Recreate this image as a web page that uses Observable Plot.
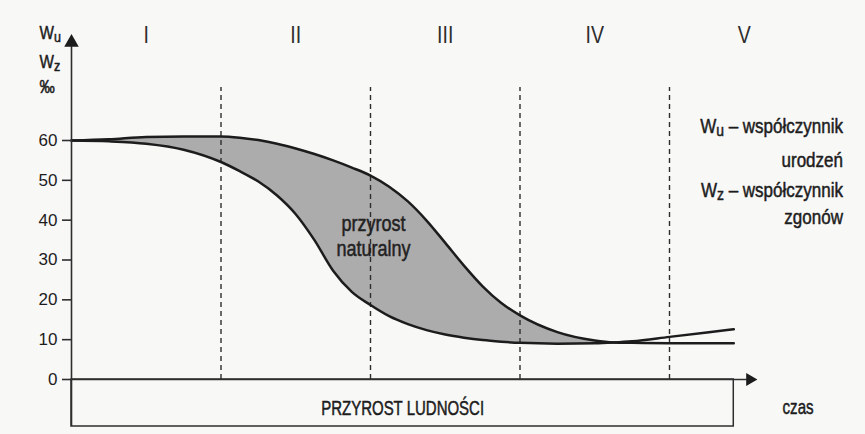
<!DOCTYPE html>
<html>
<head>
<meta charset="utf-8">
<script src="https://cdn.jsdelivr.net/npm/d3@7"></script>
<script src="https://cdn.jsdelivr.net/npm/@observablehq/plot@0.6"></script>
<style>
  html, body { margin: 0; padding: 0; background: #f8f8f7; }
  #chart svg { display: block; }
</style>
</head>
<body>
<div id="chart"></div>
<script>
// Stage labels (demographic transition periods)
const periods = ["I", "II", "III", "IV", "V"];
const periodCenters = [0.5, 1.5, 2.5, 3.5, 4.5];
const periodBoundaries = [1, 2, 3, 4];
const yTicks = [0, 10, 20, 30, 40, 50, 60];

// time (in stage units) and rates in ‰
const time   = [0, 0.25, 0.5, 0.75, 1.0, 1.125, 1.25, 1.375, 1.5, 1.625, 1.75, 1.875, 2.0, 2.125, 2.25, 2.375, 2.5, 2.625, 2.75, 2.875, 3.0, 3.25, 3.5, 3.625, 3.75, 4.0, 4.25, 4.43];
const births = [60, 60.3, 60.9, 61, 61, 60.7, 60.1, 59.2, 58.0, 56.6, 55.0, 53.2, 51.2, 48.4, 44.7, 39.9, 34.3, 28.6, 23.4, 19.2, 16.1, 11.9, 9.8, 9.3, 9.2, 9.1, 9.1, 9.1];
const deaths = [60, 59.8, 59.2, 57.7, 54.6, 52.3, 49.7, 46.2, 41.5, 35.0, 27.3, 22.0, 18.7, 15.9, 13.9, 12.4, 11.3, 10.5, 9.9, 9.5, 9.2, 9.0, 9.1, 9.3, 9.6, 10.7, 11.8, 12.6];

const axisLabels = ["Wu", "Wz", "‰"];
const legendLines = ["Wu – współczynnik", "urodzeń", "Wz – współczynnik", "zgonów"];
const bandLabel = "przyrost\nnaturalny";
const boxLabel = "PRZYROST LUDNOŚCI";
const xLabel = "czas";

const rows = time.map((t, i) => ({t, b: births[i], d: deaths[i]}));

const FONT = "'Liberation Sans', Arial, Helvetica, sans-serif";
const INK = "#1c1c1c";
const AX = "#2e2e2e";
const bold = {stroke: INK, strokeWidth: 0.5};

const chart = Plot.plot({
  width: 865,
  height: 434,
  marginLeft: 71,
  marginRight: 46.5,
  marginTop: 140,
  marginBottom: 55,
  style: {background: "transparent", fontFamily: FONT, color: INK, overflow: "visible"},
  x: {domain: [0, 5], axis: null},
  y: {domain: [0, 60]},
  marks: [
    // natural increase band
    Plot.areaY(rows, {x: "t", y1: "d", y2: d => Math.max(d.b, d.d), fill: "#acacac", curve: "monotone-x"}),
    // stage boundaries
    Plot.ruleX(periodBoundaries, {y1: 0, y2: 73.3, stroke: AX, strokeWidth: 1.4, strokeDasharray: "5,4"}),
    // rate curves
    Plot.line(rows, {x: "t", y: "b", stroke: INK, strokeWidth: 2.5, curve: "monotone-x"}),
    Plot.line(rows, {x: "t", y: "d", stroke: INK, strokeWidth: 2.5, curve: "monotone-x"}),
    // box under the axis
    Plot.rect([boxLabel], {x1: 0, x2: 4.43, y1: -11.8, y2: 0, fill: "none", stroke: AX, strokeWidth: 1.5}),
    Plot.text([boxLabel], {x: 2.215, y: -7.4, text: d => d, fontSize: 20, fill: INK, ...bold}),
    // axes lines
    Plot.ruleY([0], {x1: 0, x2: 4.52, stroke: AX, strokeWidth: 1.6}),
    Plot.ruleX([0], {y1: -11.8, y2: 84, stroke: AX, strokeWidth: 1.6}),
    Plot.dot([0], {x: 4.538, y: 0, symbol: "triangle", r: 4.8, rotate: 90, fill: INK, stroke: null}),
    Plot.dot([0], {x: 0, y: 84.6, symbol: "triangle", r: 5.4, fill: INK, stroke: null}),
    Plot.axisY({ticks: yTicks, tickSize: 9, tickPadding: 5, fontSize: 17, label: null, stroke: AX, strokeWidth: 1.6, color: INK}),
    // axis title
    Plot.text(axisLabels, {x: -0.214, y: (d, i) => [86.9, 79.6, 73.3][i], text: d => d, textAnchor: "start", fontSize: 18, fill: INK, ...bold}),
    Plot.text([xLabel], {x: 4.86, y: -7.0, text: d => d, fontSize: 21, fill: INK, ...bold}),
    // stage numerals
    Plot.text(periods, {x: (d, i) => periodCenters[i], y: 86.4, text: d => d, fontSize: 23, fill: AX}),
    // band label
    Plot.text([bandLabel], {x: 2.02, y: 36.2, text: d => d, fontSize: 22, lineHeight: 1.15, fill: "#222", ...bold}),
    // legend
    Plot.text(legendLines, {x: 5.16, y: (d, i) => [63.5, 55, 47.5, 40.7][i], text: d => d, textAnchor: "end", fontSize: 20, fill: INK, ...bold})
  ]
});

// subscripts for Wu / Wz
d3.select(chart).selectAll("text").each(function() {
  const el = this;
  if (el.querySelector("tspan")) return;
  const m = /^W([uz])(.*)$/.exec(el.textContent);
  if (!m) return;
  const s = d3.select(el);
  s.text("W");
  s.append("tspan").attr("font-size", "0.82em").attr("dy", "0.2em").text(m[1]);
  if (m[2]) s.append("tspan").attr("dy", "-0.16em").text(m[2]);
});

// condensed lettering like the original (horizontal squeeze of annotation text)
const squeeze = t => t === boxLabel ? 0.75 : t === xLabel ? 0.72 : t.startsWith("przyrost") ? 0.82 : 0.85;
d3.select(chart).selectAll('g[aria-label="text"] text').each(function() {
  const t = this.getAttribute("transform") || "";
  this.setAttribute("transform", t + ` scale(${squeeze(this.textContent)},1)`);
});

document.getElementById("chart").appendChild(chart);
</script>
</body>
</html>
